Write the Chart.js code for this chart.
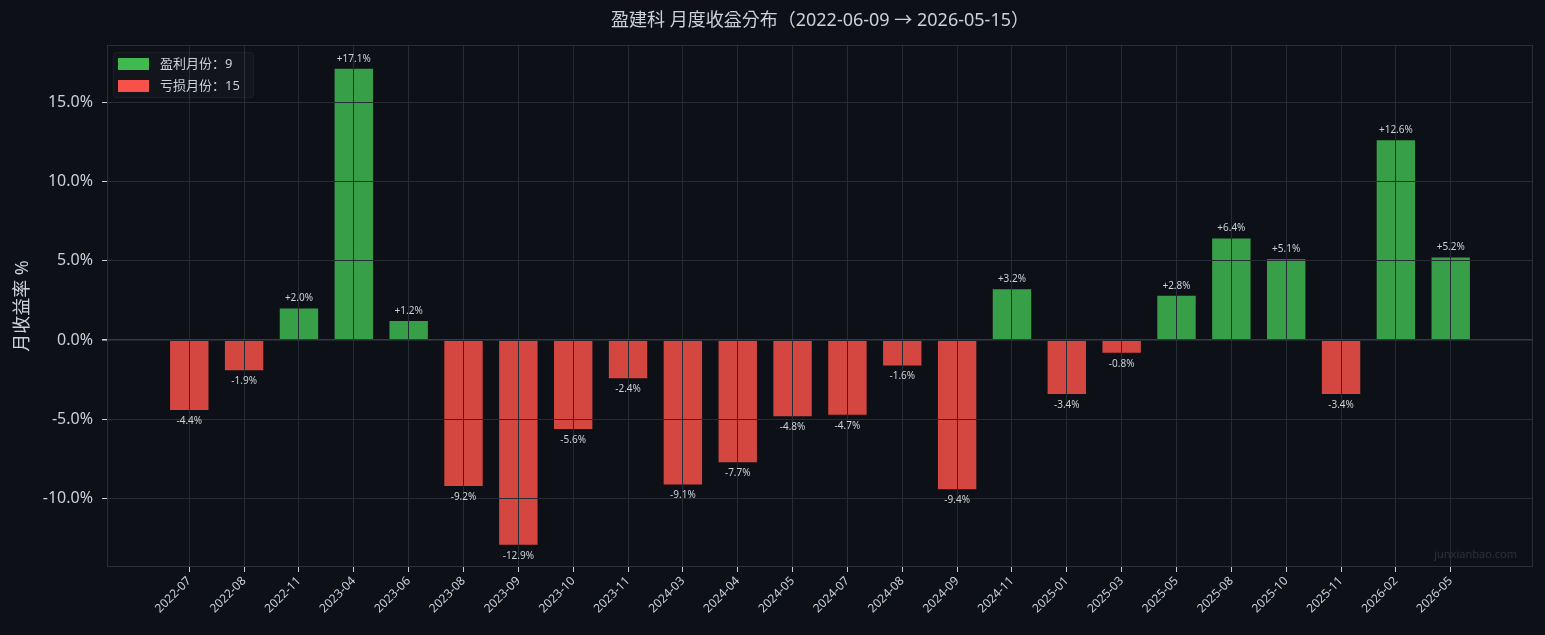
<!DOCTYPE html>
<html>
<head>
<meta charset="utf-8">
<script src="https://cdn.jsdelivr.net/npm/chart.js@4.4.1/dist/chart.umd.min.js"></script>
<style>
  html, body { margin: 0; padding: 0; background: #0d1117; }
  #wrap { width: 1545px; height: 635px; }
</style>
</head>
<body>
<div id="wrap"><canvas id="monthChart" width="1545" height="635"></canvas></div>
<script>
// 月份与月收益率(%)
var months = ['2022-07', '2022-08', '2022-11', '2023-04', '2023-06', '2023-08', '2023-09', '2023-10',
              '2023-11', '2024-03', '2024-04', '2024-05', '2024-07', '2024-08', '2024-09', '2024-11',
              '2025-01', '2025-03', '2025-05', '2025-08', '2025-10', '2025-11', '2026-02', '2026-05'];
var monthReturns = [-4.4, -1.9, 2.0, 17.1, 1.2, -9.2, -12.9, -5.6,
                    -2.4, -9.1, -7.7, -4.8, -4.7, -1.6, -9.4, 3.2,
                    -3.4, -0.8, 2.8, 6.4, 5.1, -3.4, 12.6, 5.2];
var yTicks = [-10, -5, 0, 5, 10, 15];
var titleText = '盈建科 月度收益分布（2022-06-09 → 2026-05-15）';

var FONT = "'Noto Sans', 'Noto Sans CJK SC', sans-serif";
var TITLE_FONT = "'Noto Sans', 'Noto Sans CJK KR', sans-serif";
var TEXT = '#c9d1d9';
var GRID = '#272b33';
var UP = 'rgba(63, 185, 80, 0.85)', UP_SOLID = '#3fb950';
var DOWN = 'rgba(248, 81, 73, 0.85)', DOWN_SOLID = '#f85149';

var winCount = monthReturns.filter(function (v) { return v > 0; }).length;
var lossCount = monthReturns.filter(function (v) { return v < 0; }).length;

// 两端留空位，让柱子离边框远一点
var labels = [''].concat(months, ['']);
var values = [null].concat(monthReturns, [null]);
var lastIdx = labels.length - 1;

// 标题、图例、数值、边框、水印
var decorPlugin = {
    id: 'decor',
    afterDraw: function (chart) {
        var ctx = chart.ctx, a = chart.chartArea;
        ctx.save();
        // 边框
        ctx.strokeStyle = '#2a2e36';
        ctx.lineWidth = 1;
        ctx.strokeRect(a.left + 0.5, a.top + 0.5, a.right - a.left - 1, a.bottom - a.top - 1);

        // 标题
        ctx.fillStyle = TEXT;
        ctx.font = '18px ' + TITLE_FONT;
        ctx.textAlign = 'center';
        ctx.textBaseline = 'middle';
        ctx.fillText(titleText, (a.left + a.right) / 2, 21);

        // 柱子数值
        var meta = chart.getDatasetMeta(0);
        ctx.font = '10px ' + FONT;
        meta.data.forEach(function (bar, i) {
            var v = values[i];
            if (v === null) return;
            if (v >= 0) {
                ctx.textBaseline = 'bottom';
                ctx.fillText('+' + v.toFixed(1) + '%', bar.x, bar.y - 5);
            } else {
                ctx.textBaseline = 'top';
                ctx.fillText(v.toFixed(1) + '%', bar.x, bar.y + 6);
            }
        });

        // 图例
        var lx = a.left + 6, ly = a.top + 7;
        ctx.fillStyle = 'rgba(255, 255, 255, 0.025)';
        ctx.strokeStyle = 'rgba(255, 255, 255, 0.05)';
        ctx.beginPath();
        ctx.roundRect(lx + 0.5, ly + 0.5, 140, 45, 3);
        ctx.fill();
        ctx.stroke();
        var items = [[UP_SOLID, '盈利月份：' + winCount], [DOWN_SOLID, '亏损月份：' + lossCount]];
        ctx.font = '13px ' + FONT;
        ctx.textAlign = 'left';
        ctx.textBaseline = 'middle';
        items.forEach(function (it, k) {
            var cy = ly + 12 + k * 22;
            ctx.fillStyle = it[0];
            ctx.fillRect(lx + 5, cy - 6, 31, 12);
            ctx.fillStyle = TEXT;
            ctx.fillText(it[1], lx + 47, cy);
        });

        // 水印
        ctx.fillStyle = 'rgba(255, 255, 255, 0.13)';
        ctx.font = '11px ' + FONT;
        ctx.textAlign = 'right';
        ctx.textBaseline = 'middle';
        ctx.fillText('junxianbao.com', a.right - 16, a.bottom - 12);
        ctx.restore();
    }
};

var config = {
    type: 'bar',
    data: {
        labels: labels,
        datasets: [{
            data: values,
            backgroundColor: values.map(function (v) { return v !== null && v >= 0 ? UP : DOWN; }),
            borderWidth: 0,
            barPercentage: 0.7,
            categoryPercentage: 1.0
        }]
    },
    options: {
        responsive: false,
        animation: false,
        devicePixelRatio: 1,
        layout: { padding: { left: 0, right: 12, top: 45, bottom: 0 } },
        plugins: {
            legend: { display: false },
            title: { display: false },
            tooltip: { enabled: false }
        },
        scales: {
            x: {
                offset: true,
                border: { display: false },
                grid: {
                    z: 1,
                    offset: false,
                    color: function (c) { return (c.index === 0 || c.index === lastIdx) ? 'rgba(0,0,0,0)' : GRID; },
                    tickColor: function (c) { return (c.index === 0 || c.index === lastIdx) ? 'rgba(0,0,0,0)' : TEXT; },
                    tickLength: 5
                },
                ticks: {
                    color: TEXT,
                    font: { family: FONT, size: 12 },
                    maxRotation: 45,
                    minRotation: 45,
                    autoSkip: false,
                    padding: 2
                },
                afterFit: function (scale) { scale.height = 68; }
            },
            y: {
                min: -14.3,
                max: 18.6,
                border: { display: false },
                afterBuildTicks: function (scale) {
                    scale.ticks = yTicks.map(function (v) { return { value: v }; });
                },
                grid: {
                    z: 1,
                    color: function (c) { return c.tick && c.tick.value === 0 ? '#353942' : GRID; },
                    lineWidth: function (c) { return c.tick && c.tick.value === 0 ? 1.6 : 1; },
                    tickColor: TEXT,
                    tickLength: 5
                },
                ticks: {
                    color: TEXT,
                    font: { family: FONT, size: 16 },
                    padding: 9,
                    callback: function (v) { return v.toFixed(1) + '%'; }
                },
                title: {
                    display: true,
                    text: '月收益率 %',
                    color: TEXT,
                    font: { family: FONT, size: 18 },
                    padding: { top: 12, bottom: 4 }
                },
                afterFit: function (scale) { scale.width = 107; }
            }
        }
    },
    plugins: [decorPlugin]
};

var monthChart = new Chart(document.getElementById('monthChart'), config);
</script>
</body>
</html>
